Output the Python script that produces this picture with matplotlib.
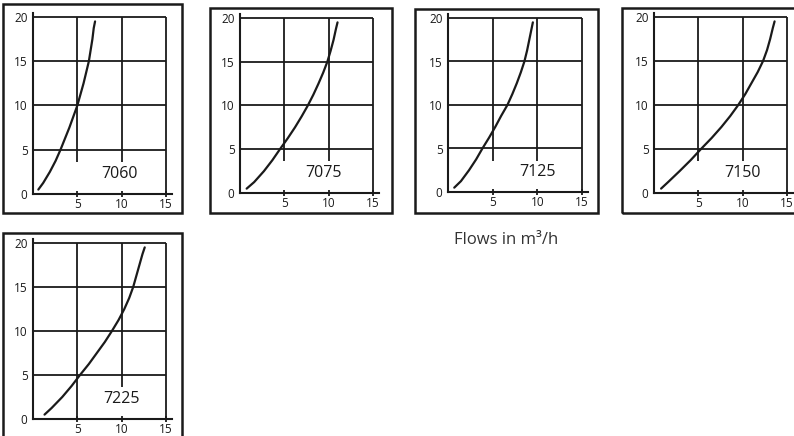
import matplotlib
matplotlib.use("Agg")
from matplotlib import pyplot as plt
from matplotlib.patches import Rectangle

plt.rcParams['font.family'] = ['Open Sans', 'DejaVu Sans']

# curve data: head (y) against flow (x)
models = ["7060", "7075", "7125", "7150", "7225"]
head = [0.5, 1.25, 2.5, 3.75, 5, 6.25, 7.5, 8.75, 10, 11.25, 12.5, 13.75, 15,
        16.25, 17.5, 18.75, 19.5]
flow_7060 = [0.6, 1.15, 1.9, 2.55, 3.1, 3.6, 4.1, 4.55, 5.0, 5.35, 5.7, 6.0,
             6.3, 6.5, 6.7, 6.85, 7.0]
flow_7075 = [0.75, 1.6, 2.7, 3.65, 4.5, 5.38, 6.2, 6.95, 7.65, 8.28, 8.85, 9.38,
             9.85, 10.22, 10.55, 10.82, 11.0]
flow_7125 = [0.7, 1.45, 2.35, 3.15, 3.85, 4.6, 5.3, 5.95, 6.65, 7.2, 7.7, 8.15,
             8.55, 8.85, 9.1, 9.35, 9.5]
flow_7150 = [0.8, 1.6, 2.9, 4.15, 5.3, 6.5, 7.6, 8.6, 9.5, 10.3, 11.0, 11.7,
             12.3, 12.75, 13.1, 13.4, 13.6]
flow_7225 = [1.3, 2.1, 3.3, 4.35, 5.3, 6.3, 7.2, 8.1, 8.9, 9.65, 10.3, 10.85,
             11.3, 11.65, 12.0, 12.35, 12.6]
flows = [flow_7060, flow_7075, flow_7125, flow_7150, flow_7225]
xticks = [5, 10, 15]
yticks = [0, 5, 10, 15, 20]
label_x = [9.7, 9.4, 10.0, 10.0, 10.0]

W, H = 794, 436
fig = plt.figure(figsize=(W / 100, H / 100), dpi=100)

# layout in pixels: axes (x at 0, x at 15, y at 0, y at 20), outer frame (l, r, t, b)
axes_px = [(33, 166, 194, 17), (240, 373, 193, 18), (448, 582, 192, 18),
           (654, 787, 193, 17), (33, 166, 419, 243)]
frames_px = [(3, 182, 4, 213), (210, 392, 8, 213), (415, 598, 9, 213),
             (622, 800, 8, 213), (3, 182, 233, 440)]

ink = "#1a1a1a"
for i, m in enumerate(models):
    l, r, t, b = frames_px[i]
    fig.patches.append(Rectangle((l / W, 1 - b / H), (r - l) / W, (b - t) / H,
                                 transform=fig.transFigure, fill=False,
                                 edgecolor=ink, linewidth=1.8))

    x0, x15, y0, y20 = axes_px[i]
    sx = (x15 - x0) / 15
    sy = (y0 - y20) / 20
    xmax, ymax = 15.7, 20.5
    ax = fig.add_axes([x0 / W, 1 - y0 / H, sx * xmax / W, sy * ymax / H])
    ax.set_xlim(0, xmax)
    ax.set_ylim(0, ymax)
    ax.patch.set_alpha(0)
    for s in ["top", "right"]:
        ax.spines[s].set_visible(False)
    for s in ["left", "bottom"]:
        ax.spines[s].set_linewidth(1.5)
        ax.spines[s].set_color(ink)

    ax.hlines([5, 10, 15, 20], 0, 15, color=ink, linewidth=1.3)
    ax.vlines(15, 0, 20, color=ink, linewidth=1.3)
    low5 = 0 if m == "7225" else 3.6
    ax.vlines(5, low5, 20, color=ink, linewidth=1.3)
    ax.vlines(10, 3.6, 20, color=ink, linewidth=1.3)

    ax.plot(flows[i], head, color=ink, linewidth=1.6, solid_capstyle="round",
            solid_joinstyle="round")
    ax.text(label_x[i], 2.3, m, ha="center", va="center", fontsize=11.5, color=ink)

    ax.set_xticks(xticks)
    ax.set_yticks(yticks)
    ax.tick_params(axis="x", length=4, width=1.3, direction="inout", pad=1,
                   labelsize=8.5, colors=ink)
    ax.tick_params(axis="y", length=0, pad=4, labelsize=8.5, colors=ink)

fig.text(506 / W, 1 - 240 / H, "Flows in m³/h", ha="center", va="center",
         fontsize=12, color="#333333")

fig.savefig("out.png", dpi=100)
